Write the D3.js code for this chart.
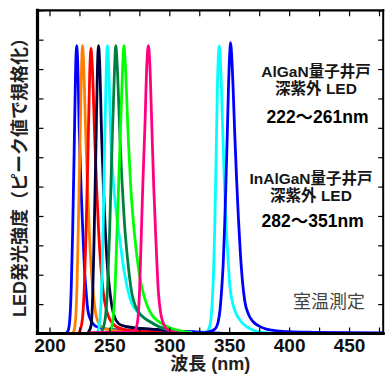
<!DOCTYPE html>
<html><head><meta charset="utf-8">
<script src="https://cdn.jsdelivr.net/npm/d3@7"></script>
<style>body{margin:0;background:#fff}svg{display:block}</style>
</head><body>
<svg id="c" width="391" height="380"></svg>
<script>
// ---- data (wavelength nm, normalized intensity) ----
const seriesNames = ["222nm","227nm","234nm","241nm","248nm","255nm","262nm","282nm","341nm","351nm"];
const s222 = [[190,0],[213,0],[215.5,0.01],[217,0.05],[218.2,0.16],[219.3,0.34],[220.6,0.62],[221.7,0.88],[222.6,0.98],[223.5,0.93],[224.9,0.68],[226.3,0.5],[227.8,0.35],[229.2,0.22],[230.6,0.14],[232,0.08],[233.5,0.055],[236,0.035],[240,0.022],[250,0.014],[270,0.011],[300,0.009],[320,0.006],[335,0.003],[345,0]];
const s227 = [[190,0],[219,0],[220.5,0.01],[222,0.06],[223,0.17],[224,0.35],[225.4,0.63],[226.6,0.88],[227.5,0.98],[228.4,0.93],[230.3,0.67],[231.8,0.5],[233.3,0.34],[235,0.21],[236.7,0.13],[238.5,0.07],[240.5,0.04],[244,0.022],[250,0.012],[265,0.006],[285,0]];
const s234 = [[190,0],[224,0],[225.5,0.01],[227.5,0.05],[229,0.15],[230.5,0.34],[232.2,0.63],[233.6,0.89],[234.6,0.97],[235.6,0.92],[237.8,0.66],[239.3,0.5],[241,0.35],[243,0.22],[245,0.137],[247.5,0.08],[250.6,0.046],[255,0.025],[262,0.014],[275,0.008],[290,0.004],[300,0]];
const s241 = [[190,0],[231,0],[233,0.008],[234.8,0.03],[236,0.12],[237.2,0.32],[238.7,0.62],[240,0.9],[240.9,0.98],[241.8,0.93],[243.6,0.66],[245,0.5],[246.6,0.35],[248.5,0.22],[250.5,0.14],[252.2,0.09],[254,0.06],[256,0.042],[260,0.028],[270,0.02],[285,0.015],[300,0.01],[305,0]];
const s248 = [[190,0],[238,0],[240.5,0.01],[242.2,0.05],[243.6,0.17],[244.8,0.36],[246,0.64],[247.4,0.9],[248.3,0.98],[249.2,0.93],[251.2,0.66],[253,0.53],[255.5,0.42],[259,0.31],[262,0.22],[265,0.155],[268,0.11],[272,0.08],[278,0.057],[285,0.037],[292,0.022],[300,0.012],[310,0.005],[320,0]];
const s255 = [[190,0],[242,0],[244,0.01],[246.5,0.05],[248.5,0.16],[250.3,0.36],[252.2,0.64],[254.3,0.9],[255.3,0.98],[256.3,0.93],[258.9,0.66],[260.5,0.52],[262.5,0.38],[265,0.26],[268.6,0.14],[272,0.09],[277,0.06],[284,0.04],[292,0.022],[300,0.012],[310,0.005],[320,0]];
const s262 = [[190,0],[249,0],[251,0.01],[253,0.05],[254.7,0.15],[256.2,0.33],[258.5,0.6],[260.8,0.88],[262.1,0.98],[263.1,0.93],[265.8,0.66],[267.8,0.5],[270,0.38],[272.5,0.28],[275.5,0.19],[278.3,0.137],[282,0.09],[286,0.06],[289.5,0.046],[295,0.03],[302,0.017],[310,0.008],[320,0.003],[330,0]];
const s282 = [[234,0.003],[255,0.004],[268,0.005],[271.5,0.012],[273.8,0.05],[275.2,0.15],[276.5,0.32],[278,0.52],[279.6,0.7],[281.3,0.92],[282.5,0.98],[283.6,0.93],[285.3,0.72],[287,0.5],[288.8,0.32],[290.9,0.14],[293,0.065],[295.5,0.03],[299,0.012],[305,0.004],[315,0]];
const s341 = [[282,0],[325,0.002],[330.5,0.005],[332.5,0.012],[334,0.03],[335,0.06],[336,0.12],[337,0.22],[337.9,0.36],[338.7,0.52],[339.4,0.68],[340.2,0.85],[341,0.95],[341.7,0.98],[342.4,0.95],[343.3,0.86],[344.5,0.7],[345.9,0.52],[347.3,0.38],[348.8,0.27],[350.6,0.16],[352.5,0.11],[355,0.075],[359,0.046],[363,0.028],[368,0.015],[373,0.007],[380,0.003],[390,0]];
const s351 = [[320,0.004],[325,0.003],[332,0.005],[336,0.01],[339,0.02],[340.8,0.04],[342.3,0.08],[343.7,0.15],[345,0.24],[346.2,0.37],[347.3,0.52],[348.4,0.68],[349.4,0.84],[350.4,0.95],[351.2,0.99],[352,0.95],[353.2,0.84],[354.6,0.68],[356.2,0.52],[357.7,0.39],[359.2,0.28],[361,0.18],[363,0.11],[366,0.066],[370,0.04],[375,0.025],[381,0.015],[390,0.009],[400,0.006],[420,0.004],[450,0.003],[478,0.002]];
const seriesData = [s222,s227,s234,s241,s248,s255,s262,s282,s341,s351];
const seriesColors = ["#0000ff","#ff8000","#ff0000","#000040","#00ffff","#008040","#00ff00","#ff0080","#00ffff","#0000ff"];
const xTicks = [200,225,250,275,300,325,350,375,400,425,450,475];
const xTickLabels = ["200","","250","","300","","350","","400","","450",""];
const yTicks = [0,0.1,0.2,0.3,0.4,0.5,0.6,0.7,0.8,0.9,1.0,1.1];
const annotations = ["AlGaN量子井戸","深紫外 LED","222～261nm","InAlGaN量子井戸","深紫外 LED","282～351nm","室温測定"];
const xTitle = "波長 (nm)";
const yTitle = "LED発光強度（ピーク値で規格化）";

// ---- drawing ----
(function(){
const svg = d3.select("#c");
const L = 37.5, R = 383.2, T = 10.3, B = 333.5;
const x = d3.scaleLinear().domain([190, 478.5]).range([L, R]);
const y = d3.scaleLinear().domain([0, 1.1]).range([B, T]);
const font = "'Liberation Sans', Arial, 'Noto Sans CJK JP', sans-serif";

svg.append("defs").append("clipPath").attr("id","clip")
  .append("rect").attr("x",L).attr("y",T).attr("width",R-L).attr("height",B-T);

const line = d3.line().x(d=>x(d[0])).y(d=>y(d[1])).curve(d3.curveMonotoneX);
const g = svg.append("g").attr("clip-path","url(#clip)");
seriesData.forEach((s,i)=>{
  g.append("path").datum(s).attr("d",line).attr("fill","none")
   .attr("stroke",seriesColors[i]).attr("stroke-width",2.8)
   .attr("stroke-linejoin","round").attr("stroke-linecap","round");
});

// axes (ticks inward)
const ax = svg.append("g").attr("font-family",font);
const axB = ax.append("g").attr("transform",`translate(0,${B})`)
  .call(d3.axisBottom(x).tickValues(xTicks).tickSize(-6).tickPadding(5)
        .tickFormat((d,i)=>xTickLabels[i]));
axB.selectAll("text").attr("font-size",19).attr("font-weight","bold").attr("fill","#111");
ax.append("g").attr("transform",`translate(0,${T})`)
  .call(d3.axisTop(x).tickValues(xTicks).tickSize(-6).tickFormat(""));
ax.append("g").attr("transform",`translate(${L},0)`)
  .call(d3.axisLeft(y).tickValues(yTicks).tickSize(-6).tickFormat(""));
ax.append("g").attr("transform",`translate(${R},0)`)
  .call(d3.axisRight(y).tickValues(yTicks).tickSize(-5).tickFormat(""));
ax.selectAll(".domain").remove();
ax.selectAll(".tick line").attr("stroke","#000").attr("stroke-width",1.2);

// frame
const fr = svg.append("g").attr("stroke","#000").attr("stroke-linecap","square");
fr.append("line").attr("x1",L).attr("x2",R).attr("y1",T).attr("y2",T).attr("stroke-width",2.2);
fr.append("line").attr("x1",R).attr("x2",R).attr("y1",T).attr("y2",B).attr("stroke-width",2);
fr.append("line").attr("x1",L).attr("x2",L).attr("y1",T).attr("y2",B).attr("stroke-width",3.2);
fr.append("line").attr("x1",L).attr("x2",R).attr("y1",B).attr("y2",B).attr("stroke-width",3.2);

// titles
svg.append("text").attr("x",(L+R)/2).attr("y",370).attr("text-anchor","middle")
  .attr("font-family",font).attr("font-size",18).attr("font-weight","bold").attr("fill","#222")
  .text(xTitle);
svg.append("text").attr("transform",`translate(26,${(T+B)/2+1}) rotate(-90)`)
  .attr("text-anchor","middle").attr("font-family",font).attr("font-size",18)
  .attr("font-weight","bold").attr("fill","#222").text(yTitle);

// annotations
const annX = [316, 316, 317.5, 311, 311, 312.7, 329];
const annY = [76.5, 94, 122.5, 183.5, 201, 226.5, 308];
const annSize = [15.5, 15.5, 17.5, 15.5, 15.5, 17.5, 18];
const annWeight = ["bold","bold","bold","bold","bold","bold","normal"];
const annFill = ["#161616","#161616","#000","#161616","#161616","#000","#444"];
annotations.forEach((t,i)=>{
  svg.append("text").attr("x",annX[i]).attr("y",annY[i]).attr("text-anchor","middle")
    .attr("font-family",font).attr("font-size",annSize[i]).attr("font-weight",annWeight[i])
    .attr("fill",annFill[i]).text(t);
});
})();
</script>
</body></html>
